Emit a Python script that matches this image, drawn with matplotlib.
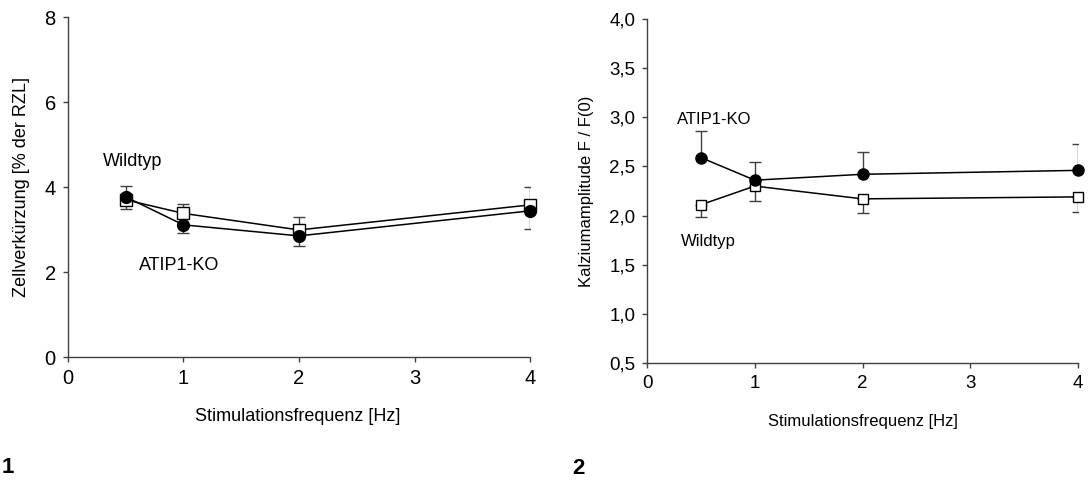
import numpy as np
import matplotlib
matplotlib.use('Agg')
import matplotlib.pyplot as plt

# --------- data --------

freq = [0.5, 1, 2, 4]

# panel 1: Zellverkuerzung
wt_short = [3.70, 3.38, 2.99, 3.58]
wt_short_err = [0.32, 0.22, 0.30, 0.41]
ko_short = [3.77, 3.11, 2.85, 3.44]
ko_short_err = [0.29, 0.19, 0.23, 0.42]

# panel 2: Kalziumamplitude
wt_ca = [2.11, 2.30, 2.17, 2.19]
wt_ca_err = [0.12, 0.15, 0.14, 0.15]
ko_ca = [2.59, 2.36, 2.42, 2.46]
ko_ca_err = [0.27, 0.19, 0.23, 0.27]

left_yticks = [0, 2, 4, 6, 8]
right_yticks = [0.5, 1.0, 1.5, 2.0, 2.5, 3.0, 3.5, 4.0]
xticks = [0, 1, 2, 3, 4]

# --------- plot-params -----------

plt.rcParams['font.family'] = ['Liberation Sans', 'DejaVu Sans']
spinecol = '#404040'
errcol = '#404040'


def style_axes(ax, ticksize):
    for s in ['top', 'right']:
        ax.spines[s].set_visible(False)
    for s in ['left', 'bottom']:
        ax.spines[s].set_color(spinecol)
        ax.spines[s].set_linewidth(1.0)
    ax.tick_params(direction='out', length=3.5, width=1.0, color=spinecol,
                   labelsize=ticksize, pad=5)


def draw_series(ax, y, err, up, marker, face, ms):
    yerr = [[0] * len(err), err] if up else [err, [0] * len(err)]
    ax.errorbar(freq, y, yerr=yerr, fmt='none', ecolor=errcol,
                elinewidth=1.0, capsize=4.5, capthick=1.0, zorder=2)
    ax.plot(freq, y, color='black', lw=1.1, marker=marker, ms=ms,
            markerfacecolor=face, markeredgecolor='black', markeredgewidth=1.0,
            zorder=3, clip_on=False)


fig = plt.figure(figsize=(10.88, 4.82), dpi=100)

# ---------------------------------------

ax1 = fig.add_axes([0.0622, 0.2593, 0.4253, 0.7054])
style_axes(ax1, 14.5)
draw_series(ax1, wt_short, wt_short_err, True, 's', 'white', 8)
draw_series(ax1, ko_short, ko_short_err, False, 'o', 'black', 8.5)
ax1.set_xlim(0, 4)
ax1.set_ylim(0, 8)
ax1.set_xticks(xticks)
ax1.set_yticks(left_yticks)
ax1.set_xlabel('Stimulationsfrequenz [Hz]', fontsize=13, va='center')
ax1.xaxis.set_label_coords(0.498, -0.176)
ax1.set_ylabel('Zellverkürzung [% der RZL]', fontsize=13, va='center')
ax1.yaxis.set_label_coords(-0.099, 0.5)
ax1.text(0.56, 4.59, 'Wildtyp', fontsize=13, ha='center', va='center')
ax1.text(0.96, 2.16, 'ATIP1-KO', fontsize=13, ha='center', va='center')

# ---------------------------------------

ax2 = fig.add_axes([0.5947, 0.2469, 0.3961, 0.7137])
style_axes(ax2, 13.5)
draw_series(ax2, wt_ca, wt_ca_err, False, 's', 'white', 7.5)
draw_series(ax2, ko_ca, ko_ca_err, True, 'o', 'black', 8)
ax2.set_xlim(0, 4)
ax2.set_ylim(0.5, 4.0)
ax2.set_xticks(xticks)
ax2.set_yticks(right_yticks)
ax2.set_yticklabels([('%.1f' % v).replace('.', ',') for v in right_yticks])
ax2.set_xlabel('Stimulationsfrequenz [Hz]', fontsize=12, va='center')
ax2.xaxis.set_label_coords(0.501, -0.169)
ax2.set_ylabel('Kalziumamplitude F / F(0)', fontsize=12, va='center')
ax2.yaxis.set_label_coords(-0.1415, 0.5)
ax2.text(0.62, 2.98, 'ATIP1-KO', fontsize=12, ha='center', va='center')
ax2.text(0.57, 1.74, 'Wildtyp', fontsize=12, ha='center', va='center')

# panel numbers
fig.text(0.0015, 0.031, '1', fontsize=16, fontweight='bold', ha='left', va='center')
fig.text(0.526, 0.029, '2', fontsize=16, fontweight='bold', ha='left', va='center')

fig.savefig('out.png', dpi=100)
